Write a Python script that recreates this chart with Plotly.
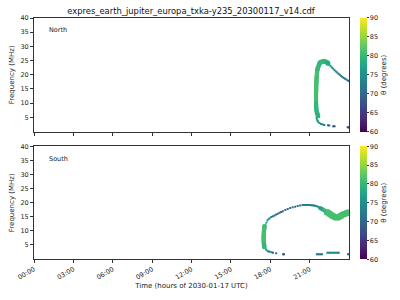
import plotly.graph_objects as go

TITLE = "expres_earth_jupiter_europa_txka-y235_20300117_v14.cdf"
tick_hours = [0, 3, 6, 9, 12, 15, 18, 21]
tick_text = ["00:00", "03:00", "06:00", "09:00", "12:00", "15:00", "18:00", "21:00"]
freq_ticks = [5, 10, 15, 20, 25, 30, 35, 40]
theta_ticks = [60, 65, 70, 75, 80, 85, 90]

# ---- North hemisphere ----
north_thick_t = [21.63, 21.60, 21.58, 21.57, 21.56, 21.55, 21.54, 21.53, 21.53, 21.52, 21.52, 21.51,
                 21.51, 21.50, 21.50, 21.50, 21.50, 21.49, 21.49, 21.49, 21.49, 21.49, 21.49, 21.49,
                 21.49, 21.49, 21.49, 21.50, 21.50, 21.51, 21.52, 21.54, 21.57, 21.61, 21.65,
                 21.68, 21.72, 21.75, 21.80, 21.85, 21.92, 22.00, 22.08, 22.15, 22.22, 22.30, 22.36, 22.42]
north_thick_f = [22.5, 22.0, 21.5, 21.0, 20.5, 20.0, 19.5, 19.0, 18.5, 18.0, 17.5, 17.0,
                 16.5, 16.0, 15.5, 15.0, 14.5, 14.0, 13.5, 13.0, 12.5, 12.0, 11.5, 11.0,
                 10.5, 10.0, 9.5, 9.0, 8.5, 8.0, 7.5, 7.0, 6.5, 6.0, 5.5,
                 23.0, 23.5, 24.0, 24.2, 24.4, 24.6, 24.7, 24.75, 24.7, 24.6, 24.4, 24.2, 23.9]
north_thick_theta = [80, 80, 80, 80, 81, 81, 81, 81, 81, 81, 81, 81,
                     81, 81, 81, 81, 81, 81, 81, 81, 81, 81, 81, 81,
                     81, 80, 80, 80, 80, 80, 80, 80, 79, 79, 79,
                     80, 80, 80, 80, 80, 80, 80, 80, 80, 79, 79, 78, 78]

north_thin_t = [21.53, 21.55, 21.58, 21.62, 21.67, 21.75, 21.87, 22.00, 22.12, 22.40, 22.50, 22.80, 22.90, 23.90, 24.00,
                22.50, 22.60, 22.70, 22.80, 22.90, 23.00, 23.10, 23.20, 23.30, 23.40,
                23.50, 23.60, 23.70, 23.80, 23.90, 24.00]
north_thin_f = [5.0, 4.5, 4.1, 3.7, 3.3, 3.0, 2.7, 2.5, 2.3, 2.2, 2.1, 1.9, 1.85, 1.5, 1.45,
                23.5, 23.0, 22.6, 22.1, 21.6, 21.2, 20.8, 20.4, 20.0, 19.6,
                19.2, 18.9, 18.6, 18.3, 18.0, 17.8]
north_thin_theta = [79, 78, 78, 77, 77, 76, 74, 72, 72, 70, 70, 67, 67, 65, 65,
                    76, 75, 75, 74, 74, 74, 74, 73, 73, 73,
                    73, 73, 73, 72, 72, 72]

# ---- South hemisphere ----
south_vert_t = [17.56, 17.55, 17.54, 17.53, 17.52, 17.52, 17.51, 17.51, 17.50, 17.50, 17.50, 17.50,
                17.50, 17.50, 17.51, 17.51, 17.52, 17.53, 17.54, 17.56]
south_vert_f = [11.6, 11.2, 10.8, 10.4, 10.0, 9.6, 9.2, 8.8, 8.4, 8.0, 7.6, 7.2,
                6.8, 6.4, 6.0, 5.6, 5.2, 4.9, 4.6, 4.3]
south_vert_theta = [80, 80, 81, 81, 81, 81, 81, 81, 81, 81, 81, 81,
                    81, 81, 81, 81, 80, 80, 80, 80]

south_band_t = [21.80, 21.90, 22.00, 22.10, 22.20, 22.30, 22.40, 22.50, 22.60, 22.70,
                22.80, 22.90, 23.00, 23.10, 23.20, 23.30, 23.40, 23.50, 23.60, 23.70,
                23.80, 23.90, 24.00]
south_band_f = [18.1, 17.9, 17.6, 17.3, 17.0, 16.7, 16.4, 16.1, 15.8, 15.5,
                15.2, 14.95, 14.75, 14.7, 14.85, 15.1, 15.4, 15.7, 15.9, 16.1,
                16.25, 16.45, 16.6]
south_band_theta = [76, 77, 78, 79, 80, 80, 81, 81, 81, 81,
                    81, 81, 81, 81, 81, 81, 81, 81, 81, 81,
                    81, 81, 81]

south_thin_t = [17.63, 17.70, 17.78, 17.87, 17.96, 18.08, 18.21, 18.33, 18.45, 18.58,
                18.71, 18.83, 18.96, 19.15, 19.33, 19.52, 19.71, 19.90, 20.09, 20.28,
                20.46, 20.56, 20.65, 20.75, 20.84, 20.94, 21.03, 21.13, 21.22, 21.31,
                21.40, 21.50, 21.59, 21.70,
                17.60, 17.68, 17.78, 17.87, 17.96, 18.10, 18.21, 18.45, 18.98, 19.05,
                21.55, 21.65, 21.75, 21.85, 21.95,
                22.35, 22.45, 22.55, 22.65, 22.75, 22.85, 22.95, 23.05, 23.15, 23.22,
                23.93, 24.00]
south_thin_f = [11.9, 12.9, 13.7, 14.1, 14.5, 14.9, 15.2, 15.5, 15.8, 16.1,
                16.4, 16.7, 17.0, 17.4, 17.8, 18.1, 18.4, 18.6, 18.8, 19.0,
                19.2, 19.2, 19.2, 19.2, 19.2, 19.2, 19.15, 19.1, 19.1, 19.0,
                18.9, 18.8, 18.7, 18.4,
                3.9, 3.4, 2.9, 2.7, 2.6, 2.4, 2.2, 2.0, 1.65, 1.65,
                1.65, 1.65, 1.65, 1.65, 1.65,
                2.2, 2.2, 2.2, 2.2, 2.2, 2.2, 2.2, 2.2, 2.2, 2.2,
                1.65, 1.65]
south_thin_theta = [79, 78, 77, 76, 75, 73, 72, 71, 70, 70,
                    70, 70, 70, 70, 70, 70, 71, 71, 71, 72,
                    73, 73, 73, 73, 73, 73, 73, 73, 73, 73,
                    73, 74, 74, 75,
                    79, 77, 75, 74, 73, 72, 71, 70, 68, 68,
                    72, 72, 72, 72, 72,
                    75, 75, 75, 75, 75, 75, 75, 75, 75, 75,
                    70, 70]

FONT = "DejaVu Sans"
AX_COLOR = "#333333"

fig = go.Figure()

def add(t, f, th, size, xa, ya, cax):
    fig.add_trace(go.Scatter(
        x=t, y=f, mode="markers", xaxis=xa, yaxis=ya, showlegend=False,
        marker=dict(symbol="square", size=size, color=th, coloraxis=cax, line=dict(width=0)),
    ))

add(north_thin_t, north_thin_f, north_thin_theta, 2, "x", "y", "coloraxis")
add(north_thick_t, north_thick_f, north_thick_theta, 4, "x", "y", "coloraxis")
add(south_thin_t, south_thin_f, south_thin_theta, 2, "x2", "y2", "coloraxis2")
add(south_vert_t, south_vert_f, south_vert_theta, 4, "x2", "y2", "coloraxis2")
add(south_band_t[:6], south_band_f[:6], south_band_theta[:6], 3.5, "x2", "y2", "coloraxis2")
add(south_band_t[5:], south_band_f[5:], south_band_theta[5:], 5.5, "x2", "y2", "coloraxis2")

axis_common = dict(showline=True, linecolor=AX_COLOR, linewidth=1, mirror=True,
                   ticks="outside", ticklen=3, tickcolor=AX_COLOR, showgrid=False,
                   zeroline=False, tickfont=dict(family=FONT, size=6.5, color="#222"))

top_dom = [0.5287, 1.0]
bot_dom = [0.0, 0.467]

cb_common = dict(thickness=7, x=1.034, xanchor="left", xpad=0, ypad=0, lenmode="fraction",
                 outlinewidth=0, ticks="outside", ticklen=2, tickcolor=AX_COLOR,
                 tickvals=theta_ticks, tickfont=dict(family=FONT, size=6.5, color="#222"),
                 title=dict(text="θ (degrees)", side="right", font=dict(family=FONT, size=7, color="#222")))

fig.update_layout(
    width=400, height=300,
    margin=dict(l=31, r=50, t=18, b=38),
    paper_bgcolor="white", plot_bgcolor="white",
    title=dict(text=TITLE, x=0.4775, xanchor="center", y=0.963, yanchor="middle",
               font=dict(family=FONT, size=8.4, color="#111")),
    xaxis=dict(domain=[0, 1], range=[0, 24], anchor="y", tickvals=tick_hours,
               showticklabels=False, **axis_common),
    yaxis=dict(domain=top_dom, range=[0, 40], anchor="x", tickvals=freq_ticks,
               title=dict(text="Frequency (MHz)", font=dict(family=FONT, size=7, color="#222"), standoff=4),
               **axis_common),
    xaxis2=dict(domain=[0, 1], range=[0, 24], anchor="y2", tickvals=tick_hours,
                ticktext=tick_text, tickangle=-30,
                title=dict(text="Time (hours of 2030-01-17 UTC)", font=dict(family=FONT, size=7, color="#222"), standoff=2),
                **axis_common),
    yaxis2=dict(domain=bot_dom, range=[0, 40], anchor="x2", tickvals=freq_ticks,
                title=dict(text="Frequency (MHz)", font=dict(family=FONT, size=7, color="#222"), standoff=4),
                **axis_common),
    coloraxis=dict(colorscale="Viridis", cmin=60, cmax=90,
                   colorbar=dict(y=sum(top_dom) / 2, yanchor="middle", len=top_dom[1] - top_dom[0], **cb_common)),
    coloraxis2=dict(colorscale="Viridis", cmin=60, cmax=90,
                    colorbar=dict(y=sum(bot_dom) / 2, yanchor="middle", len=bot_dom[1] - bot_dom[0], **cb_common)),
    annotations=[
        dict(text="North", x=0.04, y=0.89, xref="x domain", yref="y domain", showarrow=False,
             xanchor="left", yanchor="middle", font=dict(family=FONT, size=6.5, color="#222")),
        dict(text="South", x=0.04, y=0.89, xref="x2 domain", yref="y2 domain", showarrow=False,
             xanchor="left", yanchor="middle", font=dict(family=FONT, size=6.5, color="#222")),
    ],
)

fig.write_html("out.html")
